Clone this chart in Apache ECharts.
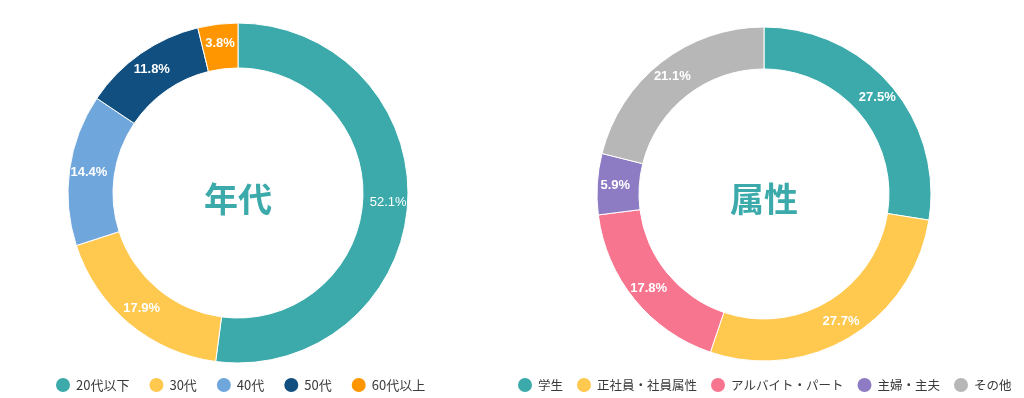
<!DOCTYPE html>
<html><head><meta charset="utf-8">
<script src="https://cdn.jsdelivr.net/npm/echarts@6/dist/echarts.min.js"></script>
<style>html,body{margin:0;padding:0;background:#fff}#c{width:1024px;height:398px}</style>
</head><body><div id="c"></div>
<script>
const ageCategories = ['20代以下', '30代', '40代', '50代', '60代以上'];
const ageValues = [52.1, 17.9, 14.4, 11.8, 3.8];
const ageColors = ['#3CAAAB', '#FFC84F', '#6FA6DC', '#114F80', '#FF9600'];
const attrCategories = ['学生', '正社員・社員属性', 'アルバイト・パート', '主婦・主夫', 'その他'];
const attrValues = [27.5, 27.7, 17.8, 5.9, 21.1];
const attrColors = ['#3CAAAB', '#FFC84F', '#F7758F', '#8D7BC4', '#B7B7B7'];
const titles = ['年代', '属性'];

const labelStyle = {
  show: true, position: 'inside', color: '#fff', fontSize: 13, fontWeight: 'bold',
  fontFamily: 'Liberation Sans, Arial, sans-serif',
  formatter: p => p.value.toFixed(1) + '%'
};
function mkData(cats, vals, cols) {
  return cats.map((c, i) => {
    const d = { name: c, value: vals[i], itemStyle: { color: cols[i] } };
    if (i === 0 && vals[i] > 50) d.label = { fontWeight: 'normal' };
    return d;
  });
}
const legendText = { fontSize: 12.5, color: '#3a3a3a', fontFamily: 'Noto Sans CJK JP, sans-serif' };
const chart = echarts.init(document.getElementById('c'), null, { renderer: 'canvas' });
chart.setOption({
  animation: false,
  legend: [
    { data: ageCategories, left: 54, top: 376, padding: 0, width: 460, icon: 'circle', itemWidth: 16, itemHeight: 16, itemGap: 18, textStyle: { ...legendText, fontSize: 13 } },
    { data: attrCategories, left: 516, top: 376, padding: 0, width: 507, icon: 'circle', itemWidth: 16, itemHeight: 16, itemGap: 12, textStyle: legendText }
  ],
  graphic: [
    { type: 'text', x: 238, y: 199, style: { text: titles[0], fill: '#3CAAAB', font: 'bold 34px "Noto Sans CJK JP", sans-serif', textAlign: 'center', textVerticalAlign: 'middle' } },
    { type: 'text', x: 764, y: 199, style: { text: titles[1], fill: '#3CAAAB', font: 'bold 34px "Noto Sans CJK JP", sans-serif', textAlign: 'center', textVerticalAlign: 'middle' } }
  ],
  series: [
    { type: 'pie', center: [238, 193], radius: [125, 170], startAngle: 90, clockwise: true,
      itemStyle: { borderColor: '#fff', borderWidth: 1 }, label: labelStyle, labelLine: { show: false },
      emphasis: { disabled: true }, data: mkData(ageCategories, ageValues, ageColors) },
    { type: 'pie', center: [764, 194], radius: [125, 167], startAngle: 90, clockwise: true,
      itemStyle: { borderColor: '#fff', borderWidth: 1 }, label: labelStyle, labelLine: { show: false },
      emphasis: { disabled: true }, data: mkData(attrCategories, attrValues, attrColors) }
  ]
});
</script></body></html>
